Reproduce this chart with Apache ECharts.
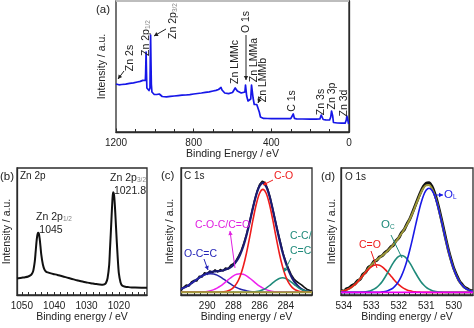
<!DOCTYPE html>
<html>
<head>
<meta charset="utf-8">
<script src="https://cdn.jsdelivr.net/npm/echarts@6/dist/echarts.min.js"></script>
<style>
  html, body { margin: 0; padding: 0; background: #fff; }
  #chart { width: 474px; height: 328px; }
</style>
</head>
<body>
<div id="chart"></div>
<script>
// ---- (a) survey spectrum ----
const aEnergy = [1200,1185,1170,1150,1130,1110,1090,1075,1062,1052,1049,1047.5,1045,1043,1041,1036,1030,1025,1023.5,1021.8,1020,1018,1015,1010,1003,998,990,982,977,970,962,955,940,920,900,880,860,840,820,800,780,760,740,720,700,685,672,665,659,654,648,640,630,620,610,600,592,586,582,575,565,555,545,536,533,530,527,520,512,506,502,498,494,488,480,475,471,467,462,456,450,440,420,400,380,350,320,300,290,287,284,281,270,240,200,170,150,143,140,137,133,120,100,94,90,87,84,80,60,40,20,14,11,8,5,2,0];
const aIntensity = [48,47.2,47.5,47.8,48.6,49.2,50,50.6,51.6,52.5,51.5,58,80,60,44,42,41.5,44,70,97,72,48,40,38.5,37.5,37,37.5,39.5,38,36.5,35.5,35,35.2,35.6,36,36.4,36.8,37,37.4,38,38.5,39,39.6,40.2,41,41.6,42.5,44,44.5,42,40,39,38,38.4,39,39.5,41,44,43,41,40,39,38.5,40,47,47,36,31,31,33,47,47,34,27.5,26.5,27.5,29,26,20,15,14,13.6,13.5,13.4,13.5,13.4,13.3,13.4,13.8,18,18,13.6,13.2,13,12.9,12.9,13,17,18,16,12.5,12.2,12,15,21,21.3,16,9.5,9,8.8,8.8,12,16,16,11,8,7.5];

// ---- (b) Zn 2p ----
const bEnergy = [1051.5,1051,1050,1049,1048,1047.5,1047,1046.5,1046,1045.75,1045.5,1045.25,1045,1044.75,1044.5,1044.25,1044,1043.5,1043,1042.5,1042,1041,1040,1039,1038,1037,1036,1035,1034,1033,1032,1031,1030,1029,1028,1027,1026,1025,1024.5,1024,1023.5,1023,1022.75,1022.5,1022.25,1022,1021.8,1021.5,1021.25,1021,1020.75,1020.5,1020.25,1020,1019.5,1019,1018,1017,1016,1015,1013,1011.3];
const bIntensity = [13.0,13.2,13.6,14.0,14.6,15.2,16.3,18.8,26.5,33.5,41.0,46.5,49.0,48.5,44.5,38.5,32.0,24.0,20.0,18.4,17.8,17.0,16.4,15.8,15.1,14.4,13.7,13.0,12.3,11.6,11.0,10.4,9.9,9.4,9.0,8.6,8.3,8.1,8.3,9.4,13.2,23.5,36.0,48.5,62.0,74.5,81.0,79.0,71.0,59.5,47.0,35.5,25.0,17.0,10.0,7.4,6.5,6.2,6.0,5.9,5.8,5.8];
const bLabels = [1020, 1030, 1040, 1050];
const bTicks = [1012,1014,1016,1018,1020,1022,1024,1026,1028,1030,1032,1034,1036,1038,1040,1042,1044,1046,1048,1050];

// ---- (c) C 1s ----
const cEnergy = [292,291.75,291.5,291.25,291,290.75,290.5,290.25,290,289.75,289.5,289.25,289,288.75,288.5,288.25,288,287.75,287.5,287.25,287,286.75,286.5,286.25,286,285.75,285.5,285.25,285,284.75,284.5,284.25,284,283.75,283.5,283.25,283,282.75,282.5,282.25,282];
const cOCC = [4.7,5.8,7.2,8.9,10.7,12.5,14.2,15.6,16.5,16.8,16.5,15.6,14.2,12.5,10.7,8.9,7.2,5.8,4.7,3.9,3.3,2.8,2.6,2.4,2.2,2.2,2.2,2.2,2.2,2.2,2.2,2.2,2.2,2.2,2.2,2.2,2.2,2.2,2.2,2.2,2.2];
const cCOC = [2.2,2.2,2.2,2.2,2.2,2.2,2.4,2.5,2.8,3.4,4.2,5.4,6.9,8.9,11.1,13.2,15.1,16.3,16.8,16.3,15.1,13.2,11.1,8.9,6.9,5.4,4.2,3.4,2.8,2.5,2.4,2.2,2.2,2.2,2.2,2.2,2.2,2.2,2.2,2.2,2.2];
const cCO = [2.2,2.2,2.2,2.2,2.2,2.2,2.2,2.2,2.2,2.2,2.2,2.2,2.2,2.5,3.0,3.9,5.8,9.1,14.4,22.4,33.1,45.9,59.5,71.6,80.1,83.2,80.1,71.6,59.5,45.9,33.1,22.4,14.4,9.1,5.8,3.9,3.0,2.5,2.2,2.2,2.2];
const cCC = [2.2,2.2,2.2,2.2,2.2,2.2,2.2,2.2,2.2,2.2,2.2,2.2,2.2,2.2,2.2,2.2,2.2,2.2,2.2,2.2,2.2,2.2,2.4,2.7,3.2,4.1,5.5,7.4,9.5,11.5,13.0,13.5,13.0,11.5,9.5,7.4,5.5,4.1,3.2,2.7,2.4];
const cFit = [4.7,5.8,7.2,8.9,10.7,12.5,14.4,15.9,17.1,18.0,18.5,18.8,18.9,19.5,20.4,21.6,23.7,26.8,31.5,38.2,47.1,57.5,69.0,79.0,85.8,88.3,85.4,78.0,67.4,55.5,44.1,33.7,25.2,18.4,13.1,9.1,6.3,4.4,3.2,2.7,2.4];
const cRawEnergy = [292,291.8,291.6,291.4,291.2,291,290.8,290.6,290.4,290.2,290,289.8,289.6,289.4,289.2,289,288.8,288.6,288.4,288.2,288,287.8,287.6,287.4,287.2,287,286.8,286.6,286.4,286.2,286,285.8,285.6,285.4,285.2,285,284.8,284.6,284.4,284.2,284,283.8,283.6,283.4,283.2,283,282.8,282.6,282.4,282.2,282];
const cRaw = [3.5,6.0,7.8,7.0,10.2,11.5,11.0,14.8,14.2,17.5,16.3,18.9,17.6,19.8,18.2,20.1,19.0,21.3,20.6,23.4,24.6,27.0,30.8,35.0,41.0,47.8,56.2,65.0,73.8,81.6,87.0,89.5,88.6,84.0,77.2,68.0,58.6,49.5,41.2,32.5,26.4,21.0,16.2,13.0,10.8,9.4,8.0,6.2,4.6,3.8,3.0];
const cBgEnergy = [292, 282];
const cBackground = [2.2, 2.2];

// ---- (d) O 1s ----
const dEnergy = [534.1,534.0,533.9,533.8,533.7,533.6,533.5,533.4,533.3,533.2,533.1,533.0,532.9,532.8,532.7,532.6,532.5,532.4,532.3,532.2,532.1,532.0,531.9,531.8,531.7,531.6,531.5,531.4,531.3,531.2,531.1,531.0,530.9,530.8,530.7,530.6,530.5,530.4,530.3,530.2,530.1,530.0,529.9,529.8,529.7,529.6,529.5,529.4,529.3];
const dCO = [2.8,3.3,4.0,5.0,6.4,8.1,10.2,12.7,15.3,17.9,20.2,22.1,23.4,23.8,23.4,22.1,20.2,17.9,15.3,12.7,10.2,8.1,6.4,5.0,4.0,3.3,2.8,2.5,2.3,2.2,2.1,2.1,2.1,2.1,2.1,2.1,2.1,2.1,2.1,2.1,2.1,2.1,2.1,2.1,2.1,2.1,2.1,2.1,2.1];
const dOC = [2.1,2.1,2.1,2.1,2.1,2.1,2.1,2.2,2.3,2.5,2.9,3.6,4.6,6.0,8.1,10.7,14.0,17.7,21.6,25.3,28.4,30.4,31.1,30.4,28.4,25.3,21.6,17.7,14.0,10.7,8.1,6.0,4.6,3.6,2.9,2.5,2.3,2.2,2.1,2.1,2.1,2.1,2.1,2.1,2.1,2.1,2.1,2.1,2.1];
const dOL = [2.1,2.1,2.1,2.1,2.1,2.1,2.1,2.1,2.1,2.1,2.1,2.1,2.1,2.1,2.1,2.5,2.8,3.4,4.3,5.7,7.8,10.9,15.1,20.5,27.2,35.2,44.2,53.8,63.1,71.6,78.3,82.6,84.1,82.6,78.3,71.6,63.1,53.8,44.2,35.2,27.2,20.5,15.1,10.9,7.8,5.7,4.3,3.4,2.8];
const dFit = [2.8,3.3,4.0,5.0,6.4,8.1,10.2,12.8,15.5,18.3,21.0,23.6,25.9,27.7,29.4,31.1,32.8,34.8,37.0,39.5,42.2,45.2,48.4,51.7,55.4,59.6,64.4,69.8,75.2,80.3,84.3,86.5,86.6,84.1,79.1,72.0,63.3,53.9,44.2,35.2,27.2,20.5,15.1,10.9,7.8,5.7,4.3,3.4,2.8];
const dRaw = [3.5,3.0,4.8,5.6,7.5,8.6,11.2,12.5,16.3,18.0,21.8,23.2,26.5,27.4,29.9,31.0,33.4,35.0,37.6,39.2,42.8,45.0,49.0,51.5,56.0,59.8,65.0,70.5,76.0,81.2,85.5,88.0,88.4,85.8,80.5,73.4,64.5,55.0,45.2,36.0,28.1,21.0,15.8,11.2,8.4,6.0,4.8,3.6,3.2];
const dBgEnergy = [534.1, 529.3];
const dBackground = [2.1, 2.1];
const dLabels = [530, 531, 532, 533, 534];
const dTicks = [529.4,529.6,529.8,530,530.2,530.4,530.6,530.8,531,531.2,531.4,531.6,531.8,532,532.2,532.4,532.6,532.8,533,533.2,533.4,533.6,533.8,534];

const FONT = '"Liberation Sans", Arial, sans-serif';
const INK = '#222';
const FRAME = '#2b2b2b';

function pairs(xs, ys) { return xs.map((x, i) => [x, ys[i]]); }

function line(gridIdx, xs, ys, color, width, smooth, z) {
  return {
    type: 'line', xAxisIndex: gridIdx, yAxisIndex: gridIdx,
    data: pairs(xs, ys), showSymbol: false, symbol: 'none',
    smooth: smooth || false, z: z || 2, silent: true,
    lineStyle: { color: color, width: width, join: 'round' }
  };
}

const plainNumber = v => String(v);

function xAxis(gridIdx, name, min, max, extra) {
  const base = {
    gridIndex: gridIdx, type: 'value', inverse: true, min: min, max: max,
    name: name, nameLocation: 'middle', nameGap: 16,
    nameTextStyle: { fontSize: 10.5, color: INK, fontFamily: FONT },
    axisLine: { show: true, lineStyle: { color: FRAME, width: 1.3 } },
    axisTick: { show: true, inside: true, length: 3.5, lineStyle: { color: FRAME, width: 1 } },
    minorTick: { show: false },
    axisLabel: { show: true, color: INK, fontSize: 10, fontFamily: FONT, margin: 6, formatter: plainNumber },
    splitLine: { show: false }
  };
  return Object.assign(base, extra || {});
}

function yAxis(gridIdx, max, gap) {
  return {
    gridIndex: gridIdx, type: 'value', min: 0, max: max,
    name: 'Intensity / a.u.', nameLocation: 'middle', nameRotate: 90, nameGap: gap,
    nameTextStyle: { fontSize: 10.5, color: INK, fontFamily: FONT },
    axisLine: { show: true, lineStyle: { color: FRAME, width: 1.3 } },
    axisTick: { show: false }, axisLabel: { show: false }, splitLine: { show: false }
  };
}

const chart = echarts.init(document.getElementById('chart'), null, { renderer: 'canvas' });

// text and arrow annotations
function txt(x, y, text, opt) {
  opt = opt || {};
  const color = opt.color || INK;
  const size = opt.size || 10.5;
  const st = {
    text: text, fill: color, fontSize: size, fontFamily: FONT,
    align: opt.align || 'left', verticalAlign: opt.valign || 'middle'
  };
  if (opt.rich) {
    st.rich = {
      m: { fontSize: size, fontFamily: FONT, fill: color },
      s: { fontSize: opt.subSize || 6.5, fontFamily: FONT, fill: opt.subColor || color, verticalAlign: 'bottom' }
    };
  }
  return { type: 'text', x: x, y: y, rotation: opt.rot || 0, silent: true, z: 50, style: st };
}
function arrow(x1, y1, x2, y2, color, head) {
  const out = [{ type: 'line', silent: true, z: 50,
    shape: { x1: x1, y1: y1, x2: x2, y2: y2 },
    style: { stroke: color, lineWidth: 1 } }];
  if (head !== false) {
    const a = Math.atan2(y2 - y1, x2 - x1), s = 4, w = 2.2;
    const bx = x2 - s * Math.cos(a), by = y2 - s * Math.sin(a);
    out.push({ type: 'polygon', silent: true, z: 50,
      shape: { points: [[x2, y2], [bx + w * Math.sin(a), by - w * Math.cos(a)], [bx - w * Math.sin(a), by + w * Math.cos(a)]] },
      style: { fill: color } });
  }
  return out;
}

const ROT = Math.PI / 2;
const graphics = [].concat(
  // (a)
  [{ type: 'line', silent: true, z: 60, shape: { x1: 116, y1: 1, x2: 349, y2: 1 }, style: { stroke: '#bdbdbd', lineWidth: 2 } }],
  [txt(96, 10, '(a)', { size: 11.5 })],
  [txt(130, 58, 'Zn 2s', { rot: ROT, align: 'center' })],
  arrow(124, 71, 118, 79, INK),
  [txt(146, 38, '{m|Zn 2p}{s|1/2}', { rot: ROT, align: 'center', rich: true, subColor: '#888' })],
  [txt(173, 21, '{m|Zn 2p}{s|3/2}', { rot: ROT, align: 'center', rich: true, subColor: '#888' })],
  arrow(166, 29, 154, 36, INK),
  [txt(235, 62, 'Zn LMMc', { rot: ROT, align: 'center' })],
  [txt(246, 22, 'O 1s', { rot: ROT, align: 'center' })],
  arrow(246, 35, 246, 80, INK),
  [txt(254, 60, 'Zn LMMa', { rot: ROT, align: 'center' })],
  [txt(263, 80, 'Zn LMMb', { rot: ROT, align: 'center' })],
  arrow(261, 96, 258, 103, INK),
  [txt(292.5, 101, 'C 1s', { rot: ROT, align: 'center' })],
  [txt(321, 102, 'Zn 3s', { rot: ROT, align: 'center' })],
  [txt(332, 96, 'Zn 3p', { rot: ROT, align: 'center' })],
  [txt(344, 103, 'Zn 3d', { rot: ROT, align: 'center' })],
  // (b)
  [txt(0, 177, '(b)', { size: 11.5 })],
  [txt(20, 176, 'Zn 2p', { size: 10 })],
  [txt(146, 178, '{m|Zn 2p}{s|3/2}', { align: 'right', rich: true, subColor: '#888' })],
  [txt(146, 191, '1021.8', { align: 'right' })],
  [txt(54, 217, '{m|Zn 2p}{s|1/2}', { align: 'center', rich: true, subColor: '#888' })],
  [txt(51, 230, '1045', { align: 'center' })],
  // (c)
  [txt(161, 176, '(c)', { size: 11.5 })],
  [txt(184, 176, 'C 1s', { size: 10 })],
  [txt(274, 176, 'C-O', { color: '#ee1c1c' })],
  arrow(273, 180, 263, 185, '#ee1c1c'),
  [txt(195, 225, 'C-O-C/C=O', { color: '#e020e0' })],
  arrow(235, 268, 230, 231, '#e020e0'),
  [txt(184, 254.5, 'O-C=C', { color: '#2626b8' })],
  arrow(204, 259, 208, 270, '#2626b8'),
  [txt(290, 236, 'C-C/', { color: '#1f8a7a' })],
  [txt(290, 251.5, 'C=C', { color: '#1f8a7a' })],
  arrow(291, 258, 284, 272, '#1f8a7a'),
  // (d)
  [txt(321, 177, '(d)', { size: 11.5 })],
  [txt(345, 177, 'O 1s', { size: 10 })],
  arrow(434, 195, 443, 195, '#1a1ae6'),
  [txt(444, 194.5, '{m|O}{s|L}', { color: '#1a1ae6', rich: true, size: 11.5 })],
  [txt(381, 225, '{m|O}{s|C}', { color: '#1f8a7a', rich: true, size: 11.5 })],
  arrow(391, 235, 402, 258, '#1f8a7a', false),
  [txt(359, 245.5, 'C=O', { color: '#ee1c1c' })],
  arrow(371, 251, 377, 268, '#ee1c1c', false)
);

const option = {
  backgroundColor: '#fff',
  animation: false,
  textStyle: { fontFamily: FONT },
  grid: [
    { left: 116, top: 1, width: 233, height: 131, show: true, borderColor: FRAME, borderWidth: 1.3, backgroundColor: 'transparent', outerBoundsMode: 'none', containLabel: false },
    { left: 17, top: 168, width: 130, height: 127, show: true, borderColor: FRAME, borderWidth: 1.3, backgroundColor: 'transparent', outerBoundsMode: 'none', containLabel: false },
    { left: 181, top: 168, width: 131, height: 127, show: true, borderColor: FRAME, borderWidth: 1.3, backgroundColor: 'transparent', outerBoundsMode: 'none', containLabel: false },
    { left: 341, top: 168, width: 132, height: 127, show: true, borderColor: FRAME, borderWidth: 1.3, backgroundColor: 'transparent', outerBoundsMode: 'none', containLabel: false }
  ],
  xAxis: [
    xAxis(0, 'Binding Energy / eV', 0, 1200, {
      interval: 400, nameGap: 15,
      minorTick: { show: true, splitNumber: 4, length: 3, lineStyle: { color: FRAME, width: 1 } }
    }),
    xAxis(1, 'Binding energy / eV', 1011.3, 1051.5, {
      nameGap: 17,
      axisLabel: { show: true, color: INK, fontSize: 10, fontFamily: FONT, margin: 6, customValues: bLabels, formatter: plainNumber },
      axisTick: { show: true, inside: true, length: 3, customValues: bTicks, lineStyle: { color: FRAME, width: 1 } }
    }),
    xAxis(2, 'Binding energy / eV', 282, 292, {
      interval: 2, nameGap: 17,
      axisLabel: { show: true, color: INK, fontSize: 10, fontFamily: FONT, margin: 6,
        formatter: v => (v === 282 || v === 292) ? '' : String(v) },
      minorTick: { show: true, splitNumber: 4, length: 3, lineStyle: { color: FRAME, width: 1 } }
    }),
    xAxis(3, 'Binding energy / eV', 529.3, 534.1, {
      nameGap: 17,
      axisLabel: { show: true, color: INK, fontSize: 10, fontFamily: FONT, margin: 6, customValues: dLabels, formatter: plainNumber },
      axisTick: { show: true, inside: true, length: 3, customValues: dTicks, lineStyle: { color: FRAME, width: 1 } }
    })
  ],
  yAxis: [yAxis(0, 131, 8), yAxis(1, 100, 4), yAxis(2, 100, 5), yAxis(3, 100, 3)],
  series: [
    line(0, aEnergy, aIntensity, '#1616e8', 1.7),
    line(1, bEnergy, bIntensity, '#111', 2, 0.25),
    line(2, cRawEnergy, cRaw, '#111', 1.6),
    line(2, cEnergy, cFit, '#1b1b72', 2.2, 0.3, 3),
    line(2, cEnergy, cOCC, '#2525a8', 1.5, 0.3, 4),
    line(2, cEnergy, cCOC, '#ee22ee', 1.5, 0.3, 4),
    line(2, cEnergy, cCC, '#1f8a7a', 1.5, 0.3, 4),
    line(2, cEnergy, cCO, '#ee1c1c', 1.6, 0.3, 4),
    line(2, cBgEnergy, cBackground, '#a39a3c', 2, false, 5),
    line(3, dEnergy, dRaw, '#111', 3, 0.3),
    line(3, dEnergy, dFit, '#9d9838', 2, 0.3, 3),
    line(3, dEnergy, dCO, '#ee1c1c', 1.6, 0.3, 4),
    line(3, dEnergy, dOC, '#1f8a7a', 1.6, 0.3, 4),
    line(3, dEnergy, dOL, '#1a1ae6', 1.6, 0.3, 4),
    line(3, dBgEnergy, dBackground, '#f000f0', 1.6, false, 5)
  ],
  graphic: graphics
};
chart.setOption(option);
</script>
</body>
</html>
